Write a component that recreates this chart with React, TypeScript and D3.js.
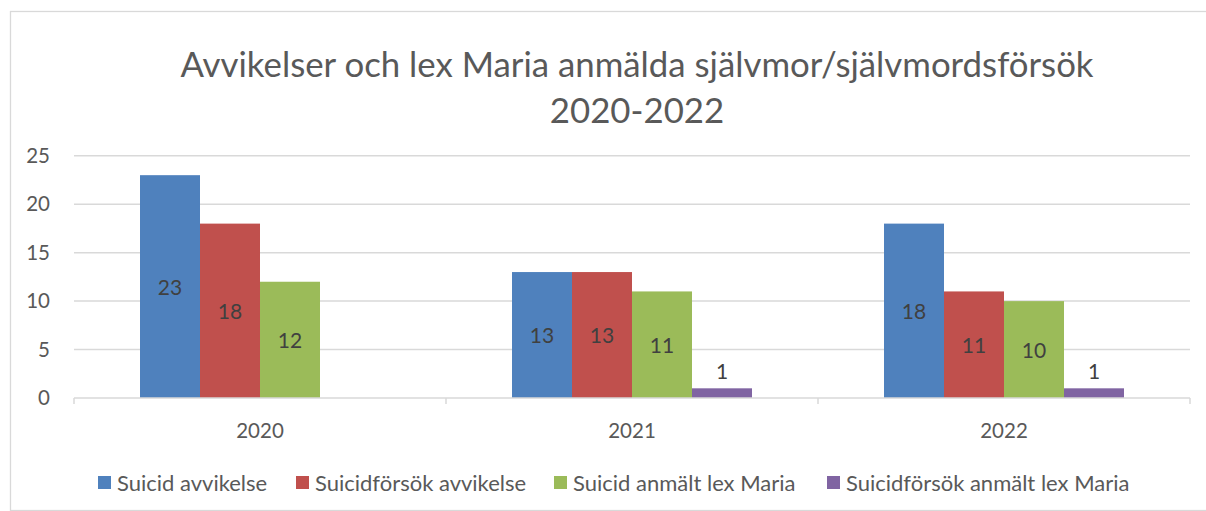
import React from "react";
import * as d3 from "d3";

const categories = ["2020", "2021", "2022"];
const seriesNames = [
  "Suicid avvikelse",
  "Suicidförsök avvikelse",
  "Suicid anmält lex Maria",
  "Suicidförsök anmält lex Maria",
];
const suicidAvvikelse = [23, 13, 18];
const suicidforsokAvvikelse = [18, 13, 11];
const suicidLexMaria = [12, 11, 10];
const suicidforsokLexMaria: (number | null)[] = [null, 1, 1];
const yTicks = [0, 5, 10, 15, 20, 25];
const titleLines = ["Avvikelser och lex Maria anmälda självmor/självmordsförsök", "2020-2022"];

const colors = ["#4F81BD", "#C0504D", "#9BBB59", "#8064A2"];
const labelPos = ["center", "center", "center", "outside"];
const legendX = [98, 296, 554, 827];

const W = 1206;
const H = 511;
const FONT = "Lato, 'Noto Sans', sans-serif";
const TEXT = "#595959";

export default function App() {
  const allSeries = [suicidAvvikelse, suicidforsokAvvikelse, suicidLexMaria, suicidforsokLexMaria];
  const plotL = 74, plotR = 1190, plotT = 155.8, plotB = 398;
  const x0 = d3.scaleBand<string>().domain(categories).range([plotL, plotR]).padding(0);
  const bw = x0.bandwidth();
  const gap = bw * (132 / 372);
  const x1 = d3.scaleBand<number>().domain([0, 1, 2, 3]).range([gap / 2, bw - gap / 2]).padding(0);
  const y = d3.scaleLinear().domain([0, 25]).range([plotB, plotT]);

  return (
    <svg width={W} height={H} style={{ position: "absolute", left: 0, top: 0 }} fontFamily={FONT}>
      <rect x={0} y={0} width={W} height={H} fill="#fff" />
      <rect x={10.5} y={11.5} width={1220} height={499} fill="#fff" stroke="#D9D9D9" strokeWidth={1.3} />
      {titleLines.map((t, i) => (
        <text key={i} x={637} y={77 + i * 45.5} textAnchor="middle" fontSize={34.8} fill={TEXT}>
          {t}
        </text>
      ))}
      {yTicks.map((t) => (
        <g key={t}>
          {t > 0 && (
            <line x1={plotL} x2={plotR} y1={y(t)} y2={y(t)} stroke="#D9D9D9" strokeWidth={1.5} />
          )}
          <text x={50} y={y(t) + 7.2} textAnchor="end" fontSize={20.5} fill={TEXT}>
            {t}
          </text>
        </g>
      ))}
      {allSeries.map((vals, si) =>
        categories.map((c, ci) => {
          const v = vals[ci];
          if (v == null) return null;
          const bx = (x0(c) as number) + (x1(si) as number);
          const by = y(v);
          const bh = plotB - by;
          const cx = bx + x1.bandwidth() / 2;
          const ly = labelPos[si] === "center" ? by + bh / 2 + 8 : by - 9;
          return (
            <g key={si + "-" + ci}>
              <rect x={bx} y={by} width={x1.bandwidth()} height={bh} fill={colors[si]} />
              <text x={cx} y={ly} textAnchor="middle" fontSize={21} fill="#404040">
                {v}
              </text>
            </g>
          );
        })
      )}
      <line x1={plotL} x2={plotR} y1={plotB} y2={plotB} stroke="#D9D9D9" strokeWidth={1.5} />
      {[...categories.map((c) => x0(c) as number), plotR].map((tx, i) => (
        <line key={i} x1={tx} x2={tx} y1={plotB} y2={plotB + 6} stroke="#D9D9D9" strokeWidth={1.5} />
      ))}
      {categories.map((c) => (
        <text key={c} x={(x0(c) as number) + bw / 2} y={437.5} textAnchor="middle" fontSize={20.5} fill={TEXT}>
          {c}
        </text>
      ))}
      {seriesNames.map((n, i) => (
        <g key={n}>
          <rect x={legendX[i]} y={476} width={13} height={13} fill={colors[i]} />
          <text x={legendX[i] + 19} y={490.5} fontSize={22} fill={TEXT}>
            {n}
          </text>
        </g>
      ))}
    </svg>
  );
}
